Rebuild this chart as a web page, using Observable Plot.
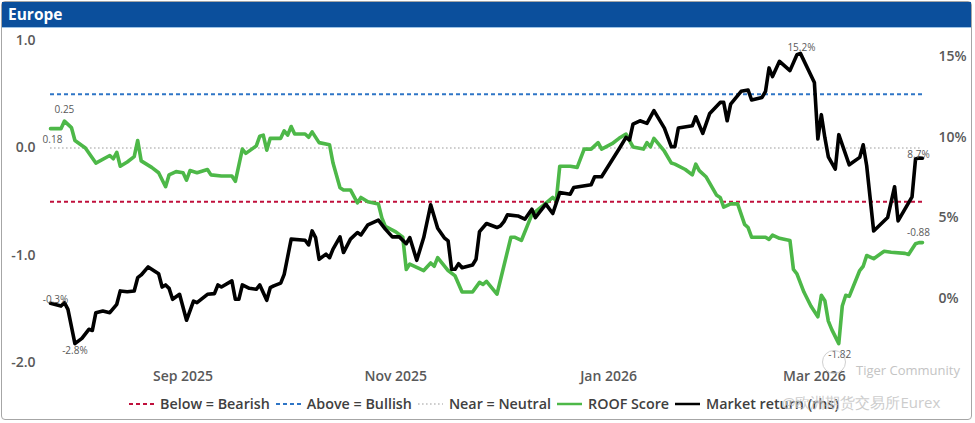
<!DOCTYPE html>
<html><head><meta charset="utf-8">
<script src="https://cdn.jsdelivr.net/npm/d3@7"></script>
<script src="https://cdn.jsdelivr.net/npm/@observablehq/plot@0.6"></script>
<style>
body{margin:0;background:#fff;font-family:"Open Sans",sans-serif;}
#card{position:relative;width:975px;height:423px;overflow:hidden;background:#fff;}
#frame{position:absolute;left:1px;top:1px;width:969px;height:417px;border:1px solid #a6a6a6;border-radius:4px;}
#bar{position:absolute;left:2px;top:2px;width:969px;height:26px;background:#0b4f9c;border-bottom:1px solid #9dc3e6;color:#fff;font-weight:700;font-size:15.5px;line-height:25px;padding-left:6px;box-sizing:border-box;}
#chart{position:absolute;left:0;top:30px;}
#legend{position:absolute;top:394px;left:0;width:968px;display:flex;justify-content:center;align-items:center;font-size:14.3px;font-weight:600;color:#404040;}
#legend .it{display:flex;align-items:center;margin:0 3px;}
#legend svg{margin-right:6px;}
.wm{position:absolute;color:#c4c4c4;white-space:nowrap;}
</style></head>
<body>
<div id="card">
  <div id="frame"></div>
  <div id="bar">Europe</div>
  <div id="chart"></div>
  <div id="legend"></div>
  <div class="wm" style="left:822px;top:350px;width:22px;height:22px;border:1.5px solid #d0d0d0;border-radius:50%;"></div>
  <div class="wm" style="left:856px;top:361px;font-size:13px;">Tiger Community</div>
  <div class="wm" style="left:782px;top:392px;font-size:15px;opacity:0.85;">@欧洲期货交易所Eurex</div>
</div>
<script>
// ROOF Score (left axis)
const scoreDates = [
"2025-07-25","2025-07-28","2025-07-29","2025-07-31","2025-08-01","2025-08-04","2025-08-07","2025-08-11","2025-08-12","2025-08-13",
"2025-08-14","2025-08-16","2025-08-18","2025-08-19","2025-08-20","2025-08-23","2025-08-25","2025-08-27","2025-08-28","2025-08-30",
"2025-09-01","2025-09-02","2025-09-03","2025-09-05","2025-09-08","2025-09-09","2025-09-12","2025-09-15","2025-09-16","2025-09-18",
"2025-09-19","2025-09-22","2025-09-23","2025-09-24","2025-09-25","2025-09-26","2025-09-29","2025-09-30","2025-10-01","2025-10-02",
"2025-10-03","2025-10-06","2025-10-07","2025-10-08","2025-10-10","2025-10-13","2025-10-14","2025-10-16","2025-10-17","2025-10-19",
"2025-10-21","2025-10-22","2025-10-24","2025-10-27","2025-10-28","2025-10-29","2025-11-01","2025-11-03","2025-11-04","2025-11-05",
"2025-11-07","2025-11-09","2025-11-11","2025-11-12","2025-11-13","2025-11-16","2025-11-18","2025-11-20","2025-11-23","2025-11-25",
"2025-11-26","2025-11-27","2025-11-30","2025-12-04","2025-12-05","2025-12-07","2025-12-10","2025-12-13","2025-12-16","2025-12-17",
"2025-12-18","2025-12-21","2025-12-23","2025-12-25","2025-12-27","2025-12-29","2025-12-30","2026-01-02","2026-01-04","2026-01-06",
"2026-01-08","2026-01-11","2026-01-12","2026-01-13","2026-01-14","2026-01-17","2026-01-19","2026-01-20","2026-01-23","2026-01-25",
"2026-01-26","2026-01-27","2026-01-29","2026-02-01","2026-02-02","2026-02-03","2026-02-05","2026-02-07","2026-02-09","2026-02-10",
"2026-02-11","2026-02-15","2026-02-16","2026-02-17","2026-02-19","2026-02-22","2026-02-23","2026-02-24","2026-02-26","2026-02-28",
"2026-03-02","2026-03-03","2026-03-04","2026-03-05","2026-03-06","2026-03-08","2026-03-09","2026-03-10","2026-03-11","2026-03-14",
"2026-03-15","2026-03-16","2026-03-18","2026-03-21","2026-03-23","2026-03-27","2026-03-28","2026-03-30","2026-03-31","2026-04-01"];
const scoreValues = [
0.18,0.18,0.25,0.19,0.07,0.00,-0.14,-0.07,-0.10,-0.04,
-0.17,-0.13,-0.08,0.07,-0.12,-0.18,-0.23,-0.36,-0.25,-0.22,
-0.23,-0.30,-0.21,-0.23,-0.20,-0.25,-0.26,-0.26,-0.31,-0.01,
-0.05,0.02,0.11,0.12,-0.02,0.09,0.09,0.16,0.12,0.20,
0.13,0.13,0.10,0.15,0.05,0.03,-0.14,-0.37,-0.39,-0.39,
-0.51,-0.46,-0.50,-0.52,-0.65,-0.73,-0.78,-0.83,-1.13,-1.08,
-1.11,-1.14,-1.07,-1.10,-1.02,-1.14,-1.19,-1.34,-1.34,-1.25,
-1.27,-1.24,-1.36,-0.83,-0.83,-0.86,-0.62,-0.54,-0.46,-0.49,
-0.17,-0.17,-0.18,-0.01,-0.01,0.05,-0.01,0.04,0.09,0.13,
0.01,-0.01,0.05,0.01,0.09,-0.03,-0.14,-0.15,-0.20,-0.25,
-0.15,-0.21,-0.27,-0.44,-0.46,-0.55,-0.52,-0.52,-0.71,-0.74,
-0.83,-0.83,-0.85,-0.81,-0.84,-0.86,-1.13,-1.17,-1.34,-1.47,
-1.57,-1.37,-1.42,-1.61,-1.69,-1.82,-1.47,-1.37,-1.38,-1.14,
-1.10,-1.00,-1.03,-0.96,-0.97,-0.98,-0.99,-0.89,-0.88,-0.88];

// Market return % (right axis)
const retDates = [
"2025-07-25","2025-07-28","2025-07-29","2025-07-30","2025-08-01","2025-08-03","2025-08-05","2025-08-06","2025-08-07","2025-08-09",
"2025-08-11","2025-08-13","2025-08-14","2025-08-16","2025-08-18","2025-08-19","2025-08-20","2025-08-22","2025-08-25","2025-08-26",
"2025-08-27","2025-08-28","2025-08-29","2025-08-31","2025-09-02","2025-09-04","2025-09-05","2025-09-08","2025-09-10","2025-09-11",
"2025-09-12","2025-09-15","2025-09-16","2025-09-17","2025-09-18","2025-09-20","2025-09-22","2025-09-23","2025-09-25","2025-09-26",
"2025-09-27","2025-09-29","2025-09-30","2025-10-02","2025-10-06","2025-10-07","2025-10-08","2025-10-09","2025-10-10","2025-10-12",
"2025-10-13","2025-10-14","2025-10-16","2025-10-17","2025-10-19","2025-10-21","2025-10-22","2025-10-24","2025-10-27","2025-10-29",
"2025-10-31","2025-11-02","2025-11-04","2025-11-05","2025-11-07","2025-11-09","2025-11-11","2025-11-13","2025-11-15","2025-11-16",
"2025-11-17","2025-11-18","2025-11-19","2025-11-20","2025-11-23","2025-11-24","2025-11-25","2025-11-27","2025-11-30","2025-12-01",
"2025-12-02","2025-12-03","2025-12-06","2025-12-08","2025-12-10","2025-12-11","2025-12-14","2025-12-16","2025-12-18","2025-12-21",
"2025-12-22","2025-12-27","2025-12-28","2025-12-30","2026-01-04","2026-01-06","2026-01-07","2026-01-08","2026-01-10","2026-01-12",
"2026-01-14","2026-01-17","2026-01-19","2026-01-20","2026-01-21","2026-01-25","2026-01-26","2026-01-28","2026-01-30","2026-02-02",
"2026-02-03","2026-02-04","2026-02-05","2026-02-08","2026-02-10","2026-02-11","2026-02-14","2026-02-15","2026-02-16","2026-02-17",
"2026-02-19","2026-02-22","2026-02-24","2026-02-25","2026-03-01","2026-03-02","2026-03-03","2026-03-04","2026-03-05","2026-03-07",
"2026-03-08","2026-03-11","2026-03-14","2026-03-15","2026-03-16","2026-03-18","2026-03-22","2026-03-24","2026-03-25","2026-03-29",
"2026-03-30","2026-03-31","2026-04-01"];
const retValues = [
-0.3,-0.47,-0.26,-0.67,-2.8,-2.47,-1.91,-1.98,-0.88,-0.78,
-0.88,-0.36,0.47,0.42,0.47,1.29,1.46,1.96,1.54,0.71,
0.84,0.63,-0.05,0.26,-1.35,-0.16,-0.26,0.26,0.30,0.84,
0.71,1.09,-0.05,-0.05,0.84,0.63,0.57,0.84,-0.11,0.67,
0.78,0.95,1.50,3.68,3.61,3.32,4.19,3.78,2.43,2.75,
2.53,3.06,3.82,2.85,3.68,4.09,3.94,4.57,4.86,4.30,
3.82,3.82,3.40,3.78,2.37,3.78,5.81,4.36,3.74,3.57,
1.81,1.81,2.16,1.91,2.08,2.43,4.15,4.65,4.40,4.50,
4.77,5.19,5.12,4.92,5.54,5.02,5.85,5.27,6.57,6.47,
6.88,7.05,7.55,7.55,9.27,9.99,9.83,10.82,11.02,10.86,
11.65,10.57,9.41,9.41,10.57,10.71,11.27,10.24,11.48,12.16,
12.16,11.02,12.06,12.85,12.93,12.31,12.47,12.85,14.30,13.76,
14.71,14.13,15.12,15.2,13.4,9.89,11.40,9.99,8.79,8.02,
10.16,8.29,8.75,9.53,8.23,4.19,5.02,6.93,4.81,6.30,
8.65,8.71,8.7];

const xTicks = ["2025-09-01","2025-11-01","2026-01-01","2026-03-01"];
const leftTicks = [-2, -1, 0, 1];
const rightTicks = [0, 5, 10, 15];
const leftDomain = [-2, 1];
const rightDomain = [-4, 16];
const thresholds = [
  {value: -0.5, name: "Below = Bearish"},
  {value: 0.5, name: "Above = Bullish"},
  {value: 0, name: "Near = Neutral"}
];

const parse = d3.utcParse("%Y-%m-%d");
const score = scoreDates.map((d, i) => ({date: parse(d), value: scoreValues[i]}));
const ret = retDates.map((d, i) => ({date: parse(d), value: retValues[i]}));
const toLeft = r => leftDomain[0] + (r - rightDomain[0]) * (leftDomain[1] - leftDomain[0]) / (rightDomain[1] - rightDomain[0]);
const fromLeft = s => rightDomain[0] + (s - leftDomain[0]) * (rightDomain[1] - rightDomain[0]) / (leftDomain[1] - leftDomain[0]);

const C = {green: "#4db848", black: "#000000", blue: "#2e75c6", red: "#c0103c", gray: "#bfbfbf", text: "#595959"};
const lab = {fontSize: 10, fill: C.text, fontFamily: "Open Sans"};

const sFirst = score[0], sLast = score[score.length - 1];
const sMax = d3.greatest(score, d => d.value), sMin = d3.least(score, d => d.value);
const rFirst = ret[0], rLast = ret[ret.length - 1];
const rMax = d3.greatest(ret, d => d.value), rMin = d3.least(ret, d => d.value);
const fs = d => d.value.toFixed(2);
const fr = d => d.value.toFixed(1) + "%";
const ry = d => toLeft(d.value);

const chart = Plot.plot({
  width: 975, height: 360,
  marginTop: 10, marginBottom: 27.5, marginLeft: 50, marginRight: 53,
  style: {fontFamily: "Open Sans", background: "transparent", overflow: "visible"},
  x: {type: "utc", domain: [sFirst.date, sLast.date]},
  y: {domain: leftDomain},
  marks: [
    Plot.ruleY([thresholds[2].value], {stroke: C.gray, strokeWidth: 1.6, strokeDasharray: "1.6,2.4"}),
    Plot.ruleY([thresholds[1].value], {stroke: C.blue, strokeWidth: 2, strokeDasharray: "4,3"}),
    Plot.ruleY([thresholds[0].value], {stroke: C.red, strokeWidth: 2, strokeDasharray: "4,3"}),
    Plot.line(score, {x: "date", y: "value", stroke: C.green, strokeWidth: 3.6, strokeLinejoin: "round"}),
    Plot.line(ret, {x: "date", y: ry, stroke: C.black, strokeWidth: 3.6, strokeLinejoin: "round"}),
    Plot.axisX(xTicks.map(parse), {label: null, tickSize: 0, tickPadding: 8, tickFormat: d3.utcFormat("%b %Y"), fontSize: 14, fontWeight: 600, fill: C.text}),
    Plot.axisY(leftTicks, {anchor: "left", label: null, tickSize: 0, tickPadding: 15, tickFormat: v => v.toFixed(1), fontSize: 14, fontWeight: 600, fill: C.text}),
    Plot.axisY(rightTicks.map(toLeft), {anchor: "right", label: null, tickSize: 0, tickPadding: 16, tickFormat: v => Math.round(fromLeft(v)) + "%", fontSize: 14, fontWeight: 600, fill: C.text}),
    Plot.text([sFirst], {x: "date", y: "value", text: fs, dx: 2, dy: 11, ...lab}),
    Plot.text([sMax], {x: "date", y: "value", text: fs, dx: 0, dy: -11, ...lab}),
    Plot.text([sMin], {x: "date", y: "value", text: fs, dx: 1, dy: 11, ...lab}),
    Plot.text([sLast], {x: "date", y: "value", text: fs, dx: -4, dy: -10, ...lab}),
    Plot.text([rFirst], {x: "date", y: ry, text: fr, dx: 5, dy: -4, ...lab}),
    Plot.text([rMin], {x: "date", y: ry, text: fr, dx: 0, dy: 7, ...lab}),
    Plot.text([rMax], {x: "date", y: ry, text: fr, dx: 1, dy: -6, ...lab}),
    Plot.text([rLast], {x: "date", y: ry, text: fr, dx: -4, dy: -3, ...lab})
  ]
});
document.getElementById("chart").appendChild(chart);

// Legend
const legendItems = [
  {name: thresholds[0].name, color: C.red, dash: "4,3", w: 2},
  {name: thresholds[1].name, color: C.blue, dash: "4,3", w: 2},
  {name: thresholds[2].name, color: C.gray, dash: "1.6,2.4", w: 1.6},
  {name: "ROOF Score", color: C.green, dash: null, w: 2.5},
  {name: "Market return (rhs)", color: C.black, dash: null, w: 2.5}
];
const lg = document.getElementById("legend");
for (const it of legendItems) {
  const el = document.createElement("div");
  el.className = "it";
  el.innerHTML = `<svg width="25" height="10"><line x1="0" x2="25" y1="5" y2="5" stroke="${it.color}" stroke-width="${it.w}" ${it.dash ? `stroke-dasharray="${it.dash}"` : ""}/></svg><span>${it.name}</span>`;
  lg.appendChild(el);
}
</script>
</body></html>
